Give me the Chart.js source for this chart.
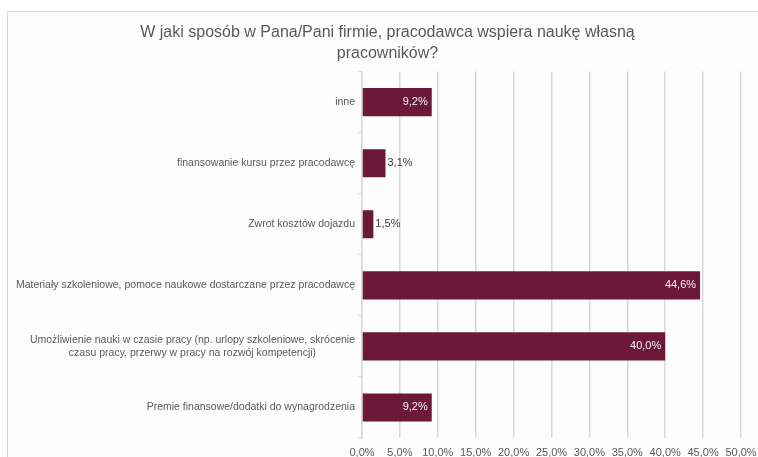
<!DOCTYPE html>
<html lang="pl">
<head>
  <meta charset="UTF-8">
  <title>Wsparcie nauki pracowników</title>
  <script src="https://cdn.jsdelivr.net/npm/chart.js"></script>
  <style>
    html, body { margin: 0; padding: 0; background: #ffffff; }
    #wrap { position: relative; width: 758px; height: 457px; overflow: hidden; }
    #frame { position: absolute; left: 7px; top: 11px; width: 760px; height: 460px;
             border: 1px solid #d9d9d9; background: #fdfdfd; }
    #chart { position: absolute; left: 0; top: 0; }
  </style>
</head>
<body>
  <div id="wrap">
    <div id="frame"></div>
    <canvas id="chart" width="758" height="457"></canvas>
  </div>

  <script>
    // Dane z wykresu
    const categories = [
      'inne',
      'finansowanie kursu przez pracodawcę',
      'Zwrot kosztów dojazdu',
      'Materiały szkoleniowe, pomoce naukowe dostarczane przez pracodawcę',
      ['Umożliwienie nauki w czasie pracy (np. urlopy szkoleniowe, skrócenie',
       'czasu pracy, przerwy w pracy na rozwój kompetencji)'],
      'Premie finansowe/dodatki do wynagrodzenia'
    ];
    const values = [9.2, 3.1, 1.5, 44.6, 40.0, 9.2];
    const xTicks = [0, 5, 10, 15, 20, 25, 30, 35, 40, 45, 50];

    const titleLines = ['W jaki sposób w Pana/Pani firmie, pracodawca wspiera naukę własną', 'pracowników?'];

    const GREY = '#595959';
    const FONT = '"Liberation Sans", Arial, sans-serif';

    function pl(v) {
      return v.toFixed(1).replace('.', ',') + '%';
    }

    // etykiety kategorii: blok wyrównany do prawej, linie wyśrodkowane
    const categoryLabels = {
      id: 'categoryLabels',
      afterDraw(chart) {
        const ctx = chart.ctx;
        const y = chart.scales.y;
        ctx.save();
        ctx.font = '10.5px ' + FONT;
        ctx.fillStyle = GREY;
        ctx.textAlign = 'center';
        ctx.textBaseline = 'middle';
        const right = y.right - 7;
        categories.forEach((lab, i) => {
          const lines = Array.isArray(lab) ? lab : [lab];
          const w = Math.max(...lines.map(l => ctx.measureText(l).width));
          const cx = right - w / 2;
          const cy = y.getPixelForTick(i);
          const lh = 13;
          lines.forEach((l, j) => {
            ctx.fillText(l, cx, cy + (j - (lines.length - 1) / 2) * lh);
          });
        });
        ctx.restore();
      }
    };

    // etykiety wartości
    const valueLabels = {
      id: 'valueLabels',
      afterDatasetsDraw(chart) {
        const ctx = chart.ctx;
        const meta = chart.getDatasetMeta(0);
        ctx.save();
        ctx.font = '11px ' + FONT;
        ctx.textBaseline = 'middle';
        meta.data.forEach((bar, i) => {
          const v = values[i];
          if (v > 5) {
            ctx.fillStyle = '#f2f2f2';
            ctx.textAlign = 'right';
            ctx.fillText(pl(v), bar.x - 4, bar.y);
          } else {
            ctx.fillStyle = '#404040';
            ctx.textAlign = 'left';
            ctx.fillText(pl(v), bar.x + 2, bar.y);
          }
        });
        ctx.restore();
      }
    };

    new Chart(document.getElementById('chart'), {
      type: 'bar',
      data: {
        labels: categories,
        datasets: [{
          data: values,
          backgroundColor: '#6b1839',
          borderWidth: 0,
          barPercentage: 0.92,
          categoryPercentage: 0.5
        }]
      },
      options: {
        indexAxis: 'y',
        responsive: false,
        animation: false,
        layout: { padding: { left: 34, right: 17, top: 0, bottom: 0 } },
        plugins: {
          legend: { display: false },
          tooltip: { enabled: false },
          title: {
            display: true,
            text: titleLines,
            color: GREY,
            font: { family: FONT, size: 16, weight: 'normal', lineHeight: 1.3 },
            padding: { top: 22, bottom: 8 }
          }
        },
        scales: {
          x: {
            min: 0,
            max: 50,
            afterBuildTicks(scale) {
              scale.ticks = xTicks.map(v => ({ value: v }));
            },
            afterFit(scale) {
              scale.height = 19;
              scale.paddingLeft = 0;
              scale.paddingRight = 0;
            },
            grid: { color: '#d9d9d9', lineWidth: 1.5, drawTicks: false },
            border: { display: false },
            ticks: {
              color: GREY,
              padding: 8,
              font: { family: FONT, size: 11 },
              callback: v => pl(v)
            }
          },
          y: {
            afterFit(scale) { scale.width = 362 - 34; },
            grid: { drawOnChartArea: false, drawTicks: true, tickLength: 4, color: '#d9d9d9', offset: true },
            border: { display: true, color: '#d9d9d9', width: 1.5 },
            ticks: { display: false }
          }
        }
      },
      plugins: [categoryLabels, valueLabels]
    });
  </script>
</body>
</html>
